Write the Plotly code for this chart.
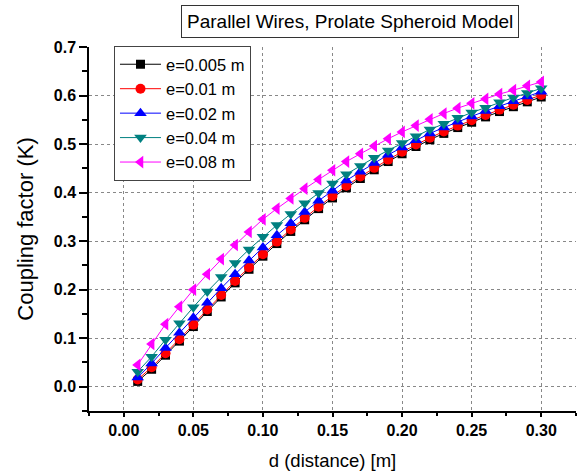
import plotly.graph_objects as go

d = [0.01, 0.02, 0.03, 0.04, 0.05, 0.06, 0.07, 0.08, 0.09, 0.10,
     0.11, 0.12, 0.13, 0.14, 0.15, 0.16, 0.17, 0.18, 0.19, 0.20,
     0.21, 0.22, 0.23, 0.24, 0.25, 0.26, 0.27, 0.28, 0.29, 0.30]

k_e0005 = [0.011, 0.036, 0.065, 0.094, 0.124, 0.155, 0.185, 0.214, 0.242, 0.269,
           0.295, 0.320, 0.344, 0.367, 0.389, 0.410, 0.429, 0.447, 0.464, 0.480,
           0.495, 0.509, 0.522, 0.534, 0.545, 0.556, 0.567, 0.577, 0.587, 0.597]
k_e001 = [0.015, 0.040, 0.069, 0.098, 0.128, 0.159, 0.189, 0.218, 0.246, 0.273,
          0.299, 0.324, 0.348, 0.371, 0.393, 0.414, 0.433, 0.451, 0.468, 0.484,
          0.499, 0.513, 0.526, 0.538, 0.549, 0.560, 0.571, 0.581, 0.591, 0.601]
k_e002 = [0.019, 0.048, 0.080, 0.111, 0.142, 0.173, 0.203, 0.232, 0.260, 0.287,
          0.312, 0.337, 0.360, 0.383, 0.404, 0.425, 0.443, 0.461, 0.478, 0.493,
          0.508, 0.522, 0.534, 0.546, 0.557, 0.568, 0.578, 0.588, 0.598, 0.608]
k_e004 = [0.031, 0.062, 0.097, 0.131, 0.164, 0.196, 0.226, 0.255, 0.283, 0.309,
          0.333, 0.356, 0.378, 0.399, 0.419, 0.438, 0.455, 0.472, 0.487, 0.502,
          0.516, 0.530, 0.542, 0.554, 0.565, 0.575, 0.586, 0.596, 0.605, 0.615]
k_e008 = [0.045, 0.088, 0.129, 0.165, 0.200, 0.232, 0.263, 0.292, 0.319, 0.345,
          0.367, 0.388, 0.408, 0.427, 0.446, 0.464, 0.480, 0.496, 0.511, 0.525,
          0.538, 0.551, 0.563, 0.574, 0.584, 0.593, 0.603, 0.611, 0.620, 0.628]

series_names = ["e=0.005 m", "e=0.01 m", "e=0.02 m", "e=0.04 m", "e=0.08 m"]
series_values = [k_e0005, k_e001, k_e002, k_e004, k_e008]
colors = ["#000000", "#FF0000", "#0000FF", "#008080", "#FF00FF"]
symbols = ["square", "circle", "triangle-up", "triangle-down", "triangle-left"]
sizes = [9, 10, 11, 11, 11]

x_ticks = [0.00, 0.05, 0.10, 0.15, 0.20, 0.25, 0.30]
y_ticks = [0.0, 0.1, 0.2, 0.3, 0.4, 0.5, 0.6, 0.7]

FONT = "Liberation Sans, Arial, sans-serif"

fig = go.Figure()
for i, (name, vals) in enumerate(zip(series_names, series_values)):
    fig.add_trace(go.Scatter(
        x=d, y=vals, name=name, mode="lines+markers",
        line=dict(color=colors[i], width=1),
        marker=dict(symbol=symbols[i], size=sizes[i], color=colors[i],
                    line=dict(width=0)),
    ))

fig.update_layout(
    width=588, height=476,
    margin=dict(l=89, r=12, t=47, b=65),
    plot_bgcolor="white", paper_bgcolor="white",
    font=dict(family=FONT, color="black"),
    showlegend=True,
    legend=dict(
        x=0.0513, y=1.0027, xanchor="left", yanchor="top",
        bgcolor="white", bordercolor="#444444", borderwidth=1,
        font=dict(size=16.5, family=FONT), itemwidth=41,
    ),
    annotations=[dict(
        text="Parallel Wires, Prolate Spheroid Model",
        xref="paper", yref="paper", x=0.535, y=1.0714,
        xanchor="center", yanchor="middle", showarrow=False,
        font=dict(size=19, family=FONT, color="black"),
        bordercolor="#333333", borderwidth=1, borderpad=5,
        bgcolor="white",
    )],
)

fig.update_xaxes(
    range=[-0.025, 0.325], tickvals=x_ticks,
    ticktext=[f"{v:.2f}" for v in x_ticks],
    showline=True, linecolor="black", linewidth=1.5,
    ticks="outside", ticklen=4, tickwidth=1.5, tickcolor="black",
    tickfont=dict(size=16, family=FONT, weight="bold"),
    showgrid=True, gridcolor="#888888", griddash="dot", gridwidth=1,
    zeroline=False, automargin=False,
    minor=dict(dtick=0.025, tick0=0, ticks="outside", ticklen=3,
               tickwidth=1.5, tickcolor="black", showgrid=False),
    title=dict(text="d (distance) [m]", font=dict(size=18.5, family=FONT), standoff=16),
)
fig.update_yaxes(
    range=[-0.05, 0.7], tickvals=y_ticks,
    ticktext=[f"{v:.1f}" for v in y_ticks],
    showline=True, linecolor="black", linewidth=1.5,
    ticks="outside", ticklen=8, tickwidth=1.5, tickcolor="black",
    tickfont=dict(size=16, family=FONT, weight="bold"),
    showgrid=True, gridcolor="#888888", griddash="dot", gridwidth=1,
    zeroline=False, automargin=False,
    minor=dict(dtick=0.05, tick0=0, ticks="outside", ticklen=5,
               tickwidth=1.5, tickcolor="black", showgrid=False),
    title=dict(text="Coupling factor (K)", font=dict(size=22, family=FONT), standoff=14),
)

fig.write_html("out.html")
